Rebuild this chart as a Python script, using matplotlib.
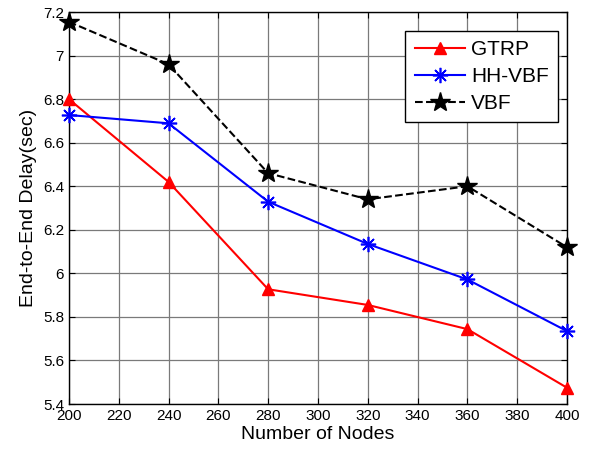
import matplotlib
matplotlib.use("Agg")
import matplotlib.pyplot as plt

plt.rcParams['font.family'] = ['Liberation Sans', 'DejaVu Sans']

nodes = [200, 240, 280, 320, 360, 400]
gtrp = [6.80, 6.42, 5.927, 5.855, 5.744, 5.475]
hhvbf = [6.727, 6.689, 6.329, 6.135, 5.972, 5.735]
vbf = [7.155, 6.96, 6.46, 6.34, 6.40, 6.12]

xticks = list(range(200, 401, 20))
yticks = [5.4, 5.6, 5.8, 6.0, 6.2, 6.4, 6.6, 6.8, 7.0, 7.2]
ytick_labels = ['5.4', '5.6', '5.8', '6', '6.2', '6.4', '6.6', '6.8', '7', '7.2']

fig = plt.figure(figsize=(5.94, 4.55), dpi=100)
ax = fig.add_axes([0.116, 0.112, 0.8385, 0.8616])

ax.plot(nodes, gtrp, color='red', lw=1.5, marker='^', ms=9, label='GTRP', clip_on=False, zorder=3)
ax.plot(nodes, hhvbf, color='blue', lw=1.5, marker=(8, 2, 0), ms=11, mew=1.2, label='HH-VBF', clip_on=False, zorder=3)
ax.plot(nodes, vbf, color='black', lw=1.5, ls='--', marker='*', ms=15, label='VBF', clip_on=False, zorder=3)

ax.set_xlim(200, 400)
ax.set_ylim(5.4, 7.2)
ax.set_xticks(xticks)
ax.set_yticks(yticks)
ax.set_yticklabels(ytick_labels)
ax.tick_params(direction='in', top=True, right=True, labelsize=11, length=4)
ax.grid(True, color='#7a7a7a', lw=0.9, ls='-')
ax.set_axisbelow(True)
for s in ax.spines.values():
    s.set_linewidth(1.0)

ax.set_xlabel('Number of Nodes', fontsize=14, labelpad=2)
ax.set_ylabel('End-to-End Delay(sec)', fontsize=14, labelpad=4)

leg = ax.legend(loc='upper right', bbox_to_anchor=(0.982, 0.952), fontsize=15,
                frameon=True, fancybox=False, edgecolor='black', framealpha=1,
                borderpad=0.45, labelspacing=0.38, handlelength=2.4, handletextpad=0.3,
                borderaxespad=0)
leg.get_frame().set_linewidth(1.0)

fig.savefig('out.png', dpi=100)
